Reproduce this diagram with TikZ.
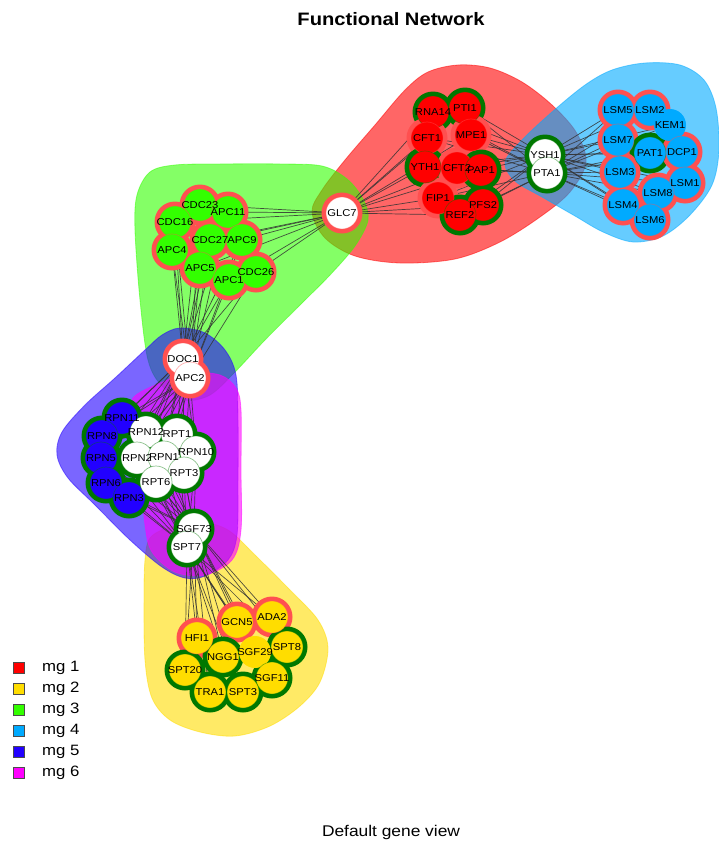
\documentclass[tikz,border=0pt]{standalone}
\usepackage{fontspec}
\usepackage{graphicx}
\setmainfont{Liberation Sans}

\pgfdeclarelayer{paper}
\pgfdeclarelayer{blobs}
\pgfdeclarelayer{edges}
\pgfdeclarelayer{rings}
\pgfdeclarelayer{labels}
\pgfsetlayers{paper,blobs,edges,rings,main,labels}

\definecolor{mgA}{HTML}{FF0000}
\definecolor{mgB}{HTML}{FFDD00}
\definecolor{mgC}{HTML}{33FF00}
\definecolor{mgD}{HTML}{00AAFF}
\definecolor{mgE}{HTML}{2200FF}
\definecolor{mgF}{HTML}{FF00FF}
\definecolor{rgreen}{HTML}{007800}
\definecolor{rred}{HTML}{FF5050}
\definecolor{edgegray}{HTML}{333333}

% slightly widened text
\newcommand{\widetext}[1]{\scalebox{1.12}[1]{#1}}

\tikzset{
  blob/.style={fill=#1, fill opacity=0.6, draw=#1, draw opacity=0.5, line width=0.8pt},
  gene/.style={circle, minimum size=32pt, inner sep=0pt, line width=0.7pt},
  link/.style={draw=edgegray, line width=0.7pt, draw opacity=0.85},
  glabel/.style={font=\fontsize{10}{11}\selectfont, inner sep=0pt},
  legbox/.style={draw=black!70, line width=0.6pt, minimum size=11pt, inner sep=0pt},
  legtext/.style={anchor=west, inner sep=0pt, font=\fontsize{15}{16}\selectfont},
}

\begin{document}
\begin{tikzpicture}[x=1pt,y=-1pt]
\useasboundingbox (0,0) rectangle (719,843);
\begin{pgfonlayer}{paper}
\fill[white] (0,0) rectangle (719,843);
\end{pgfonlayer}

% ---------- group hulls ----------
\begin{pgfonlayer}{blobs}
% mg 1
\path[blob=mgA] plot[smooth cycle, tension=0.55] coordinates {
  (312,212) (322,190) (345,160) (375,125) (405,90) (428,72) (458,65) (490,68)
  (522,82) (552,105) (576,132) (586,162) (570,192) (540,217) (500,242)
  (455,259) (400,263) (355,256) (325,238)};
% mg 2
\path[blob=mgB] plot[smooth cycle, tension=0.55] coordinates {
  (145,560) (150,538) (170,527) (200,522) (228,530) (255,555) (290,590)
  (318,620) (328,648) (320,682) (300,706) (270,726) (235,736) (200,732)
  (170,720) (152,698) (145,660) (144,600)};
% mg 3
\path[blob=mgC] plot[smooth cycle, tension=0.55] coordinates {
  (135,230) (137,195) (150,172) (175,165) (220,164) (280,164) (322,166)
  (347,179) (363,199) (368,220) (355,246) (330,275) (300,305) (265,340)
  (235,372) (210,395) (185,400) (162,386) (148,360) (140,300)};
% mg 4
\path[blob=mgD] plot[smooth cycle, tension=0.55] coordinates {
  (505,162) (522,140) (552,112) (585,85) (612,70) (645,63) (680,65)
  (704,80) (716,108) (719,150) (712,185) (690,215) (663,236) (633,242)
  (603,232) (575,216) (542,197) (515,181)};
% mg 5
\path[blob=mgE] plot[smooth cycle, tension=0.55] coordinates {
  (180,328) (205,333) (225,350) (236,375) (238,420) (238,480) (237,535)
  (228,560) (205,576) (185,578) (162,567) (130,540) (95,505) (68,478)
  (57,455) (62,432) (85,405) (115,378) (145,350) (162,335)};
% mg 6
\path[blob=mgF] plot[smooth cycle, tension=0.55] coordinates {
  (133,398) (160,383) (190,373) (220,375) (236,388) (241,410) (241,470)
  (241,530) (232,560) (205,575) (175,572) (152,552) (145,525) (140,470)
  (133,420)};
\end{pgfonlayer}

% ---------- genes ----------
\foreach \n/\x/\y/\f/\r in {
  % mg 1
  RNA14/433/112/mgA/rgreen, PTI1/465/108/mgA/rgreen, CFT1/427/138/mgA/rred,
  MPE1/471/135/mgA/rred, YTH1/425/167/mgA/rgreen, CFT2/457/168/mgA/rred,
  PAP1/481/170/mgA/rgreen, FIP1/438/198/mgA/rred, PFS2/483/205/mgA/rgreen,
  REF2/460/215/mgA/rgreen,
  % shared hubs
  GLC7/342/213/white/rred, YSH1/545/155/white/rgreen, PTA1/547/173/white/rgreen,
  DOC1/183/359/white/rred, APC2/190/378/white/rred,
  SGF73/194/529/white/rgreen, SPT7/187/547/white/rgreen,
  % mg 4
  LSM5/618/110/mgD/rred, LSM2/650/110/mgD/rred, KEM1/670/125/mgD/none,
  LSM7/618/140/mgD/rred, PAT1/650/153/mgD/rgreen, DCP1/682/152/mgD/rred,
  LSM3/620/172/mgD/rred, LSM1/685/183/mgD/rred, LSM8/658/193/mgD/rred,
  LSM4/623/205/mgD/rred, LSM6/650/220/mgD/rred,
  % mg 3
  CDC23/200/205/mgC/rred, APC11/228/212/mgC/rred, CDC16/175/222/mgC/rred,
  CDC27/210/240/mgC/rred, APC9/242/240/mgC/rred, APC4/172/250/mgC/rred,
  APC5/200/268/mgC/rred, APC1/229/280/mgC/rred, CDC26/256/272/mgC/rred,
  % mg 5
  RPN11/122/418/mgE/rgreen, RPN8/102/436/mgE/rgreen, RPN5/101/458/mgE/rgreen,
  RPN6/106/483/mgE/rgreen, RPN3/129/498/mgE/rgreen,
  % mg 6
  RPN12/146/432/white/rgreen, RPT1/177/434/white/rgreen, RPN10/196/452/white/rgreen,
  RPN2/137/458/white/rgreen, RPN1/164/457/white/rgreen, RPT3/184/473/white/rgreen,
  RPT6/156/482/white/rgreen,
  % mg 2
  GCN5/237/622/mgB/rred, ADA2/272/617/mgB/rred, HFI1/197/638/mgB/rred,
  SGF29/255/652/mgB/none, SPT8/287/647/mgB/rgreen, NGG1/223/657/mgB/rgreen,
  SPT20/185/670/mgB/rgreen, SGF11/272/678/mgB/rgreen, TRA1/210/692/mgB/rgreen,
  SPT3/243/692/mgB/rgreen}{
  \node[gene, fill=\f, draw=\r, draw opacity=0.45] (\n) at (\x,\y) {};
  \begin{pgfonlayer}{rings}
    \path[fill=\r] (\n.center) circle (20.5);
  \end{pgfonlayer}
  \begin{pgfonlayer}{labels}
    \node[glabel] (\n-txt) at (\n.center) {\widetext{\n}};
  \end{pgfonlayer}
}

% ---------- interactions ----------
\begin{pgfonlayer}{edges}
\foreach \a in {GLC7}{
  \foreach \b in {RNA14,PTI1,CFT1,MPE1,YTH1,CFT2,PAP1,FIP1,PFS2,REF2,
                  CDC23,APC11,CDC16,CDC27,APC9,APC4,APC5,APC1,CDC26}
    {\draw[link] (\a) -- (\b);}}
\foreach \a in {YSH1,PTA1}{
  \foreach \b in {RNA14,PTI1,CFT1,MPE1,YTH1,CFT2,PAP1,FIP1,PFS2,REF2,
                  LSM5,LSM2,KEM1,LSM7,PAT1,DCP1,LSM3,LSM1,LSM8,LSM4,LSM6}
    {\draw[link] (\a) -- (\b);}}
\foreach \a in {DOC1,APC2}{
  \foreach \b in {CDC23,APC11,CDC16,CDC27,APC9,APC4,APC5,APC1,CDC26,
                  RPN11,RPN8,RPN5,RPN6,RPN3,RPN12,RPT1,RPN10,RPN2,RPN1,RPT3,RPT6}
    {\draw[link] (\a) -- (\b);}}
\foreach \a in {SGF73,SPT7}{
  \foreach \b in {RPN11,RPN8,RPN5,RPN6,RPN3,RPN12,RPT1,RPN10,RPN2,RPN1,RPT3,RPT6,
                  GCN5,ADA2,HFI1,SGF29,SPT8,NGG1,SPT20,SGF11,TRA1,SPT3}
    {\draw[link] (\a) -- (\b);}}
\end{pgfonlayer}

% ---------- title, caption, legend ----------
\node (title) at (391,19) {\widetext{\fontsize{18}{20}\selectfont\bfseries Functional Network}};
\node (caption) at (391,832) {\widetext{\fontsize{15.5}{17}\selectfont Default gene view}};

\foreach \k/\c in {1/mgA,2/mgB,3/mgC,4/mgD,5/mgE,6/mgF}{
  \node[legbox, fill=\c] (key\k) at (19,647+21*\k) {};
  \node[legtext] (keytext\k) at (42,647+21*\k) {\widetext{mg \k}};
}
\end{tikzpicture}
\end{document}
